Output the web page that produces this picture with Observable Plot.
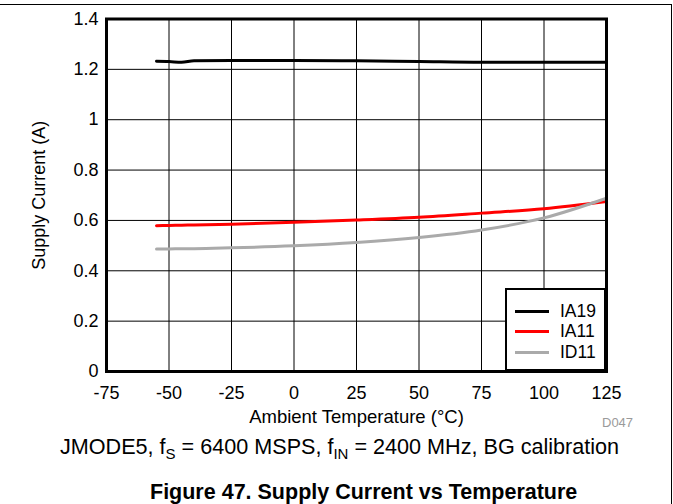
<!DOCTYPE html>
<html>
<head>
<meta charset="utf-8">
<script src="https://cdn.jsdelivr.net/npm/d3@7"></script>
<script src="https://cdn.jsdelivr.net/npm/@observablehq/plot@0.6"></script>
<style>
  html, body { margin: 0; padding: 0; background: #fff; }
  body { font-family: "Liberation Sans", Arial, sans-serif; }
  #wrap { position: relative; width: 673px; height: 504px; overflow: hidden; }
  #border { position: absolute; left: 0; top: 4px; width: 672px; height: 510px;
            border-top: 1.5px solid #000; border-right: 1.5px solid #000; box-sizing: border-box; }
  #chart { position: absolute; left: 0; top: 0; }
  #chart g[aria-label="x-axis label"] text { font-size: 18.5px; }
  #chart g[aria-label="y-axis label"] text { font-size: 18px; }
  #legend { position: absolute; left: 505px; top: 288px; width: 101px; height: 83px;
            box-sizing: border-box; border: 2.5px solid #000; background: #fff;
            font-size: 17.5px; color: #000; padding-top: 11px; }
  #legend .row { display: flex; align-items: center; height: 20.5px; }
  #legend .sw { display: inline-block; width: 34px; height: 3px; margin-left: 8px; margin-right: 11px; }
  #dcode { position: absolute; left: 602px; top: 415px; font-size: 13px; color: #9a9a9a; }
  #subtitle { position: absolute; left: 60px; top: 434px; font-size: 21.6px; white-space: nowrap; color: #000; }
  #subtitle sub { font-size: 15px; vertical-align: -5px; line-height: 0; }
  #title { position: absolute; left: 150px; top: 480px; font-size: 21.5px; font-weight: bold; white-space: nowrap; color: #000; }
</style>
</head>
<body>
<div id="wrap">
  <div id="border"></div>
  <div id="chart"></div>
  <div id="legend"></div>
  <div id="dcode">D047</div>
  <div id="subtitle">JMODE5, f<sub>S</sub> = 6400 MSPS, f<sub>IN</sub> = 2400 MHz, BG calibration</div>
  <div id="title">Figure 47. Supply Current vs Temperature</div>
</div>
<script>
// Temperatures (°C)
const temps = [-55, -50, -45, -40, -25, 0, 25, 50, 75, 100, 125];
// Series values (A)
const ia19 = [1.232, 1.231, 1.228, 1.234, 1.235, 1.235, 1.234, 1.231, 1.228, 1.228, 1.228];
const ia11 = [0.579, 0.580, 0.581, 0.582, 0.585, 0.593, 0.602, 0.613, 0.629, 0.646, 0.675];
const id11 = [0.487, 0.487, 0.488, 0.488, 0.491, 0.499, 0.512, 0.532, 0.562, 0.610, 0.688];
const seriesNames = ["IA19", "IA11", "ID11"];
const seriesColors = ["#000000", "#ff0000", "#aaaaaa"];
const xTicks = [-75, -50, -25, 0, 25, 50, 75, 100, 125];
const yTicks = [0, 0.2, 0.4, 0.6, 0.8, 1, 1.2, 1.4];
const yTickLabels = ["0", "0.2", "0.4", "0.6", "0.8", "1", "1.2", "1.4"];

const seriesValues = [ia19, ia11, id11];
const data = [];
seriesNames.forEach((name, i) => {
  temps.forEach((t, j) => data.push({series: name, temp: t, current: seriesValues[i][j]}));
});

const chart = Plot.plot({
  width: 673,
  height: 430,
  marginTop: 18.5,
  marginLeft: 106,
  marginRight: 67,
  marginBottom: 59,
  style: {fontFamily: "'Liberation Sans', Arial, sans-serif", fontSize: "18px", color: "#000", background: "transparent"},
  x: {domain: [-75, 125], ticks: xTicks, tickFormat: d => String(d), tickSize: 0, tickPadding: 15,
      label: "Ambient Temperature (°C)", labelAnchor: "center", labelArrow: "none", labelOffset: 51},
  y: {domain: [0, 1.4], ticks: yTicks, tickFormat: d => yTickLabels[yTicks.indexOf(d)], tickSize: 0, tickPadding: 8,
      label: "Supply Current (A)", labelAnchor: "center", labelArrow: "none", labelOffset: 74},
  color: {domain: seriesNames, range: seriesColors},
  marks: [
    Plot.gridX(xTicks, {stroke: "#000", strokeOpacity: 1, strokeWidth: 1}),
    Plot.gridY(yTicks, {stroke: "#000", strokeOpacity: 1, strokeWidth: 1}),
    Plot.line(data, {x: "temp", y: "current", z: "series", stroke: "series", strokeWidth: 3, curve: "monotone-x"}),
    Plot.frame({stroke: "#000", strokeWidth: 3})
  ]
});
document.getElementById("chart").appendChild(chart);

const legend = document.getElementById("legend");
seriesNames.forEach((name, i) => {
  const row = document.createElement("div");
  row.className = "row";
  const sw = document.createElement("span");
  sw.className = "sw";
  sw.style.background = seriesColors[i];
  const lab = document.createElement("span");
  lab.textContent = name;
  row.appendChild(sw);
  row.appendChild(lab);
  legend.appendChild(row);
});
</script>
</body>
</html>
